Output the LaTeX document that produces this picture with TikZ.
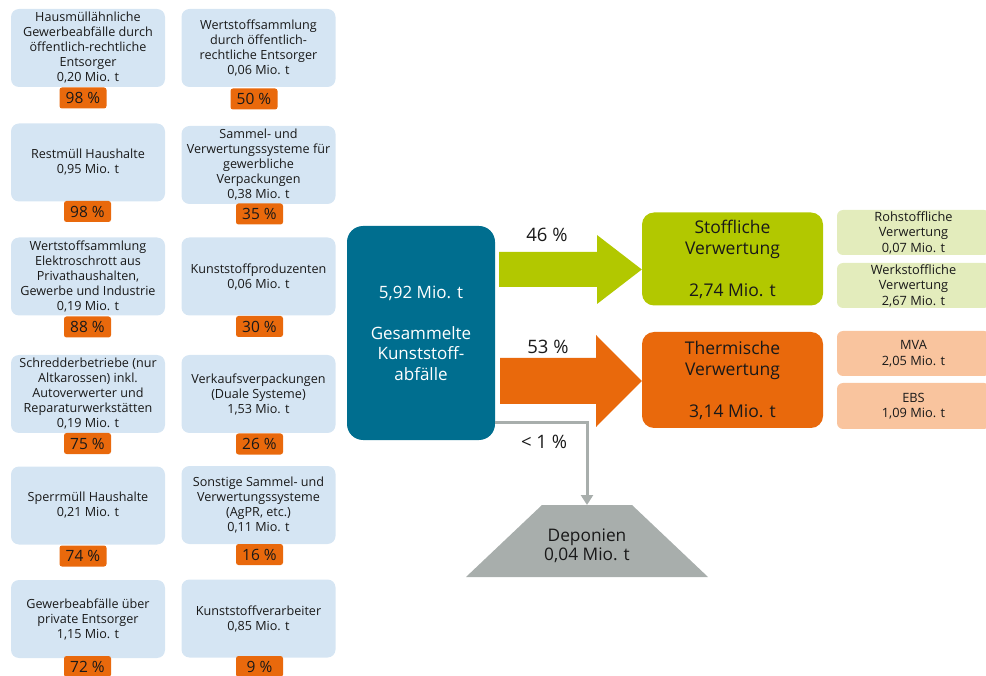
\documentclass[tikz,border=0pt]{standalone}
\usepackage{fontspec}
\setmainfont{Open Sans}
\usetikzlibrary{arrows.meta}
\definecolor{lblue}{RGB}{213,229,243}
\definecolor{obadge}{RGB}{233,105,12}
\definecolor{teal}{RGB}{0,110,143}
\definecolor{lgreen}{RGB}{178,200,0}
\definecolor{pgreen}{RGB}{227,236,188}
\definecolor{porange}{RGB}{249,196,158}
\definecolor{greyc}{RGB}{168,174,172}
\definecolor{txt}{RGB}{25,25,25}
\tikzset{
  srcbox/.style={fill=lblue, rounded corners=8pt, minimum width=154pt, minimum height=78pt, inner sep=0pt, align=center, text=txt, font=\fontsize{12.6}{15}\selectfont},
  badge/.style={fill=obadge, rounded corners=2.5pt, minimum width=47pt, minimum height=21pt, inner sep=0pt, text=txt, font=\fontsize{15.5}{18}\selectfont},
  bigbox/.style={rounded corners=12pt, minimum width=181pt, minimum height=93pt, inner sep=0pt, align=center, text=txt, font=\fontsize{17.5}{21}\selectfont},
  subbox/.style={rounded corners=6pt, minimum width=153pt, minimum height=45pt, inner sep=0pt, align=center, text=txt, font=\fontsize{12.8}{15.5}\selectfont},
  pctlabel/.style={font=\fontsize{18.5}{21}\selectfont, text=txt, inner sep=0pt},
}
\begin{document}
\begin{tikzpicture}[x=1pt,y=-1pt]
\useasboundingbox (0,0) rectangle (986,676);
% source boxes, column 1
\node[srcbox] (a1) at (88,48) {Hausmüllähnliche\\Gewerbeabfälle durch\\öffentlich-rechtliche\\Entsorger\\0,20 Mio. t};
\node[srcbox] (a2) at (88,162.5) {Restmüll Haushalte\\0,95 Mio. t};
\node[srcbox] (a3) at (88,276.5) {Wertstoffsammlung\\Elektroschrott aus\\Privathaushalten,\\Gewerbe und Industrie\\0,19 Mio. t};
\node[srcbox] (a4) at (88,394) {Schredderbetriebe (nur\\Altkarossen) inkl.\\Autoverwerter und\\Reparaturwerkstätten\\0,19 Mio. t};
\node[srcbox] (a5) at (88,505.5) {Sperrmüll Haushalte\\0,21 Mio. t};
\node[srcbox] (a6) at (88,619) {Gewerbeabfälle über\\private Entsorger\\1,15 Mio. t};
% column 2
\node[srcbox] (b1) at (258.5,48) {Wertstoffsammlung\\durch öffentlich-\\rechtliche Entsorger\\0,06 Mio. t};
\node[srcbox] (b2) at (258.5,165) {Sammel- und\\Verwertungssysteme für\\gewerbliche\\Verpackungen\\0,38 Mio. t};
\node[srcbox] (b3) at (258.5,276.5) {Kunststoffproduzenten\\0,06 Mio. t};
\node[srcbox] (b4) at (258.5,394) {Verkaufsverpackungen\\(Duale Systeme)\\1,53 Mio. t};
\node[srcbox] (b5) at (258.5,505) {Sonstige Sammel- und\\Verwertungssysteme\\(AgPR, etc.)\\0,11 Mio. t};
\node[srcbox] (b6) at (258.5,618.5) {Kunststoffverarbeiter\\0,85 Mio. t};
% badges
\node[badge] (pa1) at (83,98) {98 \%};
\node[badge] (pa2) at (87.5,211.5) {98 \%};
\node[badge] (pa3) at (87.5,327) {88 \%};
\node[badge] (pa4) at (87.5,443.5) {75 \%};
\node[badge] (pa5) at (83,556) {74 \%};
\node[badge] (pa6) at (87.5,666.5) {72 \%};
\node[badge] (pb1) at (254,99) {50 \%};
\node[badge] (pb2) at (259.5,214) {35 \%};
\node[badge] (pb3) at (259.5,326.5) {30 \%};
\node[badge] (pb4) at (259.5,444) {26 \%};
\node[badge] (pb5) at (259.5,554.5) {16 \%};
\node[badge] (pb6) at (259.5,666.5) {9 \%};
% central box
\node[fill=teal, rounded corners=16pt, minimum width=148pt, minimum height=214pt, inner sep=0pt, align=center, text=white, font=\fontsize{17}{20.5}\selectfont] (c) at (421,333) {5,92 Mio. t\\[20.5pt]Gesammelte\\Kunststoff-\\abfälle};
% targets
\node[bigbox, fill=lgreen] (st) at (732.5,259) {Stoffliche\\Verwertung\\[21pt]2,74 Mio. t};
\node[bigbox, fill=obadge, minimum height=96pt] (th) at (732.5,380) {Thermische\\Verwertung\\[21pt]3,14 Mio. t};
\node[subbox, fill=pgreen] (r1) at (913.5,232.5) {Rohstoffliche\\Verwertung\\0,07 Mio. t};
\node[subbox, fill=pgreen] (r2) at (913.5,285.5) {Werkstoffliche\\Verwertung\\2,67 Mio. t};
\node[subbox, fill=porange] (r3) at (913.5,353.5) {MVA\\2,05 Mio. t};
\node[subbox, fill=porange, minimum height=46pt] (r4) at (913.5,406) {EBS\\1,09 Mio. t};
% arrows
\fill[lgreen] (499,252) -- (597,252) -- (597,235) -- (st.west |- 0,269.5) -- (597,304) -- (597,287) -- (499,287) -- cycle;
\fill[obadge] (500,358) -- (596,358) -- (596,335) -- (th.west |- 0,381) -- (596,427) -- (596,404) -- (500,404) -- cycle;
\node[pctlabel] (l46) at (547,235) {46 \%};
\node[pctlabel] (l53) at (548,347) {53 \%};
\node[pctlabel] (l1) at (544,442) {< 1 \%};
% landfill
\fill[greyc] (542,505) -- (632,505) -- (708,577) -- (466,577) -- cycle;
\coordinate (deptop) at (587,505);
\node[align=center, inner sep=0pt, text=txt, font=\fontsize{17.3}{19.5}\selectfont] (dep) at (587,546) {Deponien\\0,04 Mio. t};
\draw[greyc, line width=3pt, -{Triangle[width=12pt,length=10pt]}] (c.east |- 0,423) -| (deptop);
\end{tikzpicture}
\end{document}
